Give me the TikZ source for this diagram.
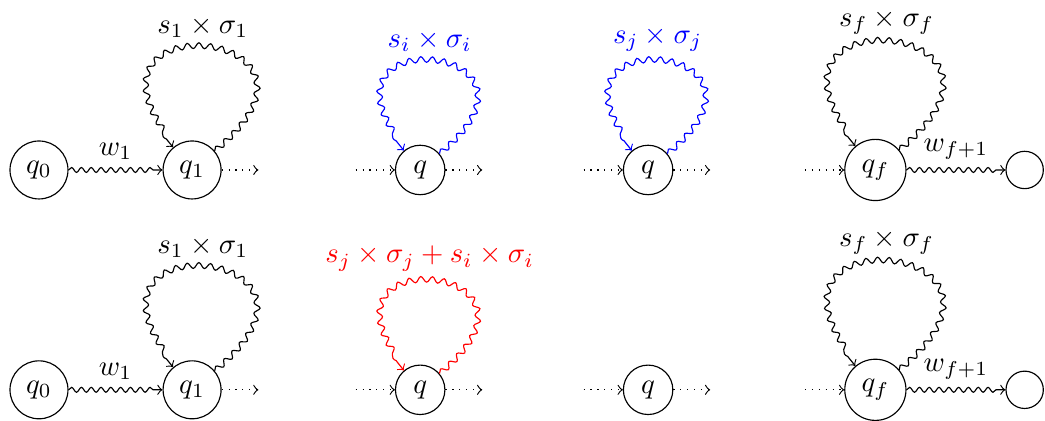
\documentclass[tikz,border=0pt]{standalone}
\usepackage{amsmath,amssymb}
\usepackage{tikz}
\usetikzlibrary{positioning, decorations.pathmorphing}

\begin{document}
\begin{tikzpicture}[
        st/.style={draw, circle, inner sep=3.33pt},
        fin/.style={draw, circle, minimum size=13pt, inner sep=0pt},
        wave/.style={->, decorate, decoration={snake, amplitude=0.3mm, segment length=1.2mm, post length=1.1mm}},
        loopw/.style={->, decorate, decoration={snake, amplitude=0.35mm, segment length=1.4mm, post length=1.2mm}, out=40, in=130, min distance=#1},
        loopw/.default=2.35cm,
        dots/.style={->, dotted},
    ]
    \useasboundingbox (-0.477,2.08) rectangle (12.31,-3.07);

    % Top row
    \node[st] (q0) at (0,0) {$q_0$};
    \node[st, right=1.15cm of q0] (q1) {$q_1$};
    \node[st, right=2.12cm of q1] (qi) {$q$};
    \node[st, right=2.17cm of qi] (qj) {$q$};
    \node[st, right=2.09cm of qj] (qf) {$q_f$};
    \node[fin, right=1.21cm of qf] (qe) {};

    % Bottom row
    \node[st] (q0b) at (0,-2.69) {$q_0$};
    \node[st] (q1b) at (q1 |- q0b) {$q_1$};
    \node[st] (qib) at (qi |- q0b) {$q$};
    \node[st] (qjb) at (qj |- q0b) {$q$};
    \node[st] (qfb) at (qf |- q0b) {$q_f$};
    \node[fin] (qeb) at (qe |- q0b) {};

    % Weighted edges
    \draw[wave] (q0) -- (q1) node[midway, above] {$w_1$};
    \draw[wave] (qf) -- (qe) node[midway, above] {$w_{f+1}$};
    \draw[wave] (q0b) -- (q1b) node[midway, above] {$w_1$};
    \draw[wave] (qfb) -- (qeb) node[midway, above] {$w_{f+1}$};

    % Self loops
    \draw[loopw] (q1) to node[above] {$s_1\times\sigma_1$} (q1);
    \draw[loopw=2.1cm, blue] (qi) to node[above] {$s_i\times\sigma_i$} (qi);
    \draw[loopw=2.1cm, blue] (qj) to node[above] {$s_j\times\sigma_j$} (qj);
    \draw[loopw=2.45cm] (qf) to node[above, inner sep=2.5pt] {$s_f\times\sigma_f$} (qf);
    \draw[loopw] (q1b) to node[above] {$s_1\times\sigma_1$} (q1b);
    \draw[loopw=2.1cm, red] (qib) to node[above] {$s_j\times\sigma_j+s_i\times\sigma_i$} (qib);
    \draw[loopw=2.45cm] (qfb) to node[above, inner sep=2.5pt] {$s_f\times\sigma_f$} (qfb);

    % Elided parts of the run
    \foreach \n in {q1, qi, qj, q1b, qib, qjb} {
        \coordinate[right=0.45cm of \n] (\n-out);
        \draw[dots] (\n) -- (\n-out);
    }
    \foreach \n in {qi, qj, qf, qib, qjb, qfb} {
        \coordinate[left=0.48cm of \n] (\n-in);
        \draw[dots] (\n-in) -- (\n);
    }
\end{tikzpicture}
\end{document}
